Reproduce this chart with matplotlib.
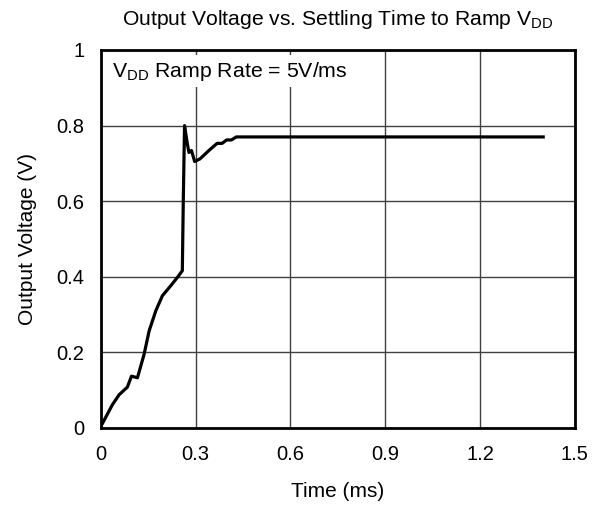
import matplotlib
matplotlib.use('Agg')
import matplotlib.pyplot as plt

# output voltage settling after VDD ramp
time_ms = [0.0, 0.037, 0.058, 0.084, 0.097, 0.116, 0.137, 0.153, 0.174, 0.195,
           0.221, 0.242, 0.258, 0.261, 0.265, 0.274, 0.279, 0.287, 0.297, 0.314,
           0.342, 0.368, 0.384, 0.398, 0.413, 0.429, 0.6, 0.9, 1.2, 1.4]
vout = [0.004, 0.062, 0.088, 0.108, 0.137, 0.133, 0.195, 0.257, 0.31, 0.35,
        0.376, 0.398, 0.416, 0.60, 0.80, 0.751, 0.729, 0.734, 0.705, 0.712,
        0.734, 0.753, 0.753, 0.762, 0.762, 0.770, 0.770, 0.770, 0.770, 0.770]
xticks = [0, 0.3, 0.6, 0.9, 1.2, 1.5]
xticklabels = ["0", "0.3", "0.6", "0.9", "1.2", "1.5"]
yticks = [0, 0.2, 0.4, 0.6, 0.8, 1]
yticklabels = ["0", "0.2", "0.4", "0.6", "0.8", "1"]

plt.rcParams['font.family'] = ['Liberation Sans', 'DejaVu Sans']

fig = plt.figure(figsize=(6, 5.05), dpi=100)
ax = fig.add_axes([0.168, 0.1525, 0.79, 0.7485])

ax.plot(time_ms, vout, color='black', lw=2.3, zorder=3)

ax.set_xlim(0, 1.5)
ax.set_ylim(0, 1)
ax.set_xticks(xticks)
ax.set_xticklabels(xticklabels)
ax.set_yticks(yticks)
ax.set_yticklabels(yticklabels)
ax.tick_params(length=0, labelsize=14.5, pad=12)
ax.grid(True, color='#404040', lw=1)
for s in ax.spines.values():
    s.set_linewidth(2)

ax.set_xlabel("Time (ms)", fontsize=15, labelpad=13)
ax.set_ylabel("Output Voltage (V)", fontsize=15, labelpad=14)
ax.set_title(r"Output Voltage vs. Settling Time to Ramp V$_{\mathregular{DD}}$",
             fontsize=15.2, pad=18)

ax.text(0.023, 0.944, r"V$_{\mathregular{DD}}$ Ramp Rate = 5V/ms", transform=ax.transAxes,
        fontsize=15.3, va='center', ha='left', zorder=4,
        bbox=dict(facecolor='white', edgecolor='none', pad=3))

fig.savefig("out.png", dpi=100)
